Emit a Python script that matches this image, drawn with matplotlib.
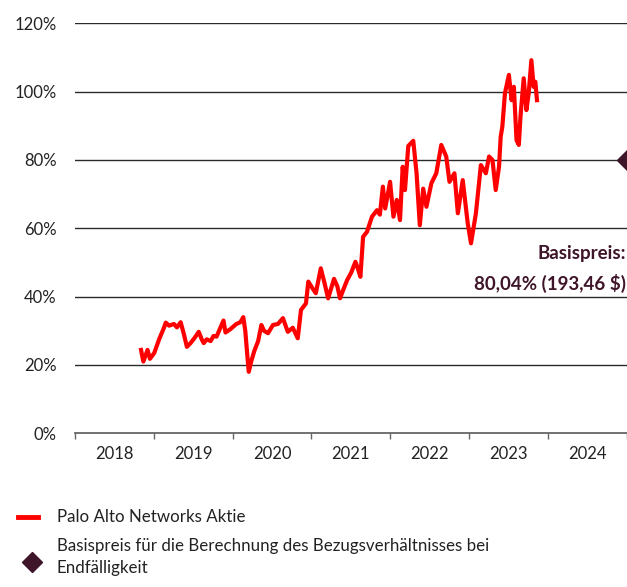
import matplotlib
matplotlib.use("Agg")
import matplotlib.pyplot as plt
from matplotlib.lines import Line2D

plt.rcParams['font.family'] = ['Lato', 'DejaVu Sans']

# ---- data ----
dates = [2018.841, 2018.870, 2018.923, 2018.954, 2019.008, 2019.070, 2019.133, 2019.154,
         2019.196, 2019.258, 2019.296, 2019.343, 2019.384, 2019.422, 2019.472, 2019.522,
         2019.572, 2019.610, 2019.635, 2019.673, 2019.723, 2019.760, 2019.798, 2019.848,
         2019.886, 2019.911, 2019.974, 2020.049, 2020.099, 2020.137, 2020.162, 2020.187,
         2020.206, 2020.237, 2020.275, 2020.325, 2020.366, 2020.400, 2020.450, 2020.513,
         2020.576, 2020.639, 2020.701, 2020.764, 2020.827, 2020.868, 2020.931, 2020.961,
         2021.015, 2021.056, 2021.119, 2021.166, 2021.212, 2021.287, 2021.329, 2021.363,
         2021.404, 2021.454, 2021.504, 2021.558, 2021.592, 2021.621, 2021.655, 2021.705,
         2021.768, 2021.831, 2021.868, 2021.906, 2021.935, 2021.969, 2021.997, 2022.040,
         2022.082, 2022.123, 2022.157, 2022.186, 2022.228, 2022.291, 2022.333, 2022.374,
         2022.417, 2022.458, 2022.521, 2022.583, 2022.646, 2022.709, 2022.750, 2022.813,
         2022.856, 2022.918, 2022.981, 2023.023, 2023.085, 2023.148, 2023.211, 2023.252,
         2023.295, 2023.336, 2023.378, 2023.399, 2023.420, 2023.453, 2023.503, 2023.537,
         2023.566, 2023.600, 2023.629, 2023.650, 2023.691, 2023.725, 2023.754, 2023.788,
         2023.817, 2023.838, 2023.859]
values = [24.4, 21.0, 24.4, 21.8, 23.5, 27.5, 31.0, 32.4,
          31.5, 32.0, 31.0, 32.5, 29.0, 25.3, 26.5, 28.0,
          29.7, 27.5, 26.4, 27.5, 27.0, 28.5, 28.3, 31.0,
          33.0, 29.5, 30.5, 32.0, 32.5, 34.0, 30.0, 23.0,
          18.0, 21.0, 24.0, 27.0, 31.7, 30.0, 29.3, 31.7,
          32.0, 33.7, 29.7, 30.9, 27.8, 36.1, 38.0, 44.4,
          42.4, 41.0, 48.3, 44.0, 39.5, 45.2, 43.0, 39.5,
          42.0, 44.9, 47.0, 50.2, 48.0, 45.8, 57.5, 59.0,
          63.4, 65.3, 64.0, 72.2, 65.8, 70.0, 73.6, 63.4,
          68.3, 62.4, 78.0, 71.2, 84.1, 85.6, 76.1, 60.9,
          71.6, 66.3, 73.2, 76.1, 84.4, 81.0, 73.6, 76.1,
          64.4, 74.1, 61.5, 55.6, 64.4, 78.5, 76.1, 81.0,
          80.0, 71.2, 78.0, 86.8, 89.7, 99.5, 104.9, 97.5,
          101.4, 85.8, 84.4, 92.7, 103.9, 94.6, 99.5, 109.2,
          101.4, 102.9, 97.5]

strike_pct = 80.04
strike_date = 2025.0
x_end = 2024.93
years = [2018, 2019, 2020, 2021, 2022, 2023, 2024]
y_ticks = [0, 20, 40, 60, 80, 100, 120]
series_label = "Palo Alto Networks Aktie"
strike_label = "Basispreis für die Berechnung des Bezugsverhältnisses bei\nEndfälligkeit"
annot_lines = ["Basispreis:", "80,04% (193,46 $)"]

RED = "#ff0000"
PLUM = "#3f1529"

fig = plt.figure(figsize=(6.27, 5.87), dpi=100)
ax = fig.add_axes([74.7 / 627, 1 - 433.3 / 587, 1 - 74.7 / 627, (433.3 - 23.3) / 587])

ax.set_xlim(2018, x_end)
ax.set_ylim(0, 120)

for v in y_ticks[1:]:
    ax.axhline(v, color="#2a2a2a", lw=1.0, zorder=1)

ax.plot(dates, values, color=RED, lw=3.0, solid_joinstyle="round", zorder=3)
ax.plot([strike_date], [strike_pct], marker="D", color=PLUM, markersize=10.5,
        clip_on=False, zorder=4)

for s in ["top", "right", "left"]:
    ax.spines[s].set_visible(False)
ax.spines["bottom"].set_color("#666666")
ax.spines["bottom"].set_linewidth(1.3)

ax.set_yticks(y_ticks)
ax.set_yticklabels([f"{v}%" for v in y_ticks])
ax.tick_params(axis="y", length=0, pad=13, labelsize=12, labelcolor="#222222")

ax.set_xticks(years + [2025])
ax.set_xticklabels([])
ax.set_xticks([y + 0.5 for y in years], minor=True)
ax.set_xticklabels([str(y) for y in years], minor=True)
ax.tick_params(axis="x", which="major", length=4, width=1, color="#666666", direction="out")
ax.tick_params(axis="x", which="minor", length=0, pad=9, labelsize=12, labelcolor="#222222")

fig.text(0.998, 1 - 253.3 / 587, annot_lines[0], ha="right", va="center",
         fontsize=13.5, fontweight="bold", color=PLUM)
fig.text(0.998, 1 - 283.3 / 587, annot_lines[1], ha="right", va="center",
         fontsize=13.5, fontweight="bold", color=PLUM)

# legend (manual)
fig.add_artist(Line2D([18 / 627, 38 / 627], [1 - 517 / 587] * 2, color=RED, lw=3.5))
fig.text(57 / 627, 1 - 517 / 587, series_label, ha="left", va="center", fontsize=12.2, color="#222222")
fig.add_artist(Line2D([32 / 627], [1 - 562 / 587], marker="D", color=PLUM, markersize=10, lw=0))
fig.text(57 / 627, 1 - 538 / 587, strike_label, ha="left", va="top", fontsize=12.2, color="#222222",
         linespacing=1.45)

fig.savefig("out.png", dpi=100)
